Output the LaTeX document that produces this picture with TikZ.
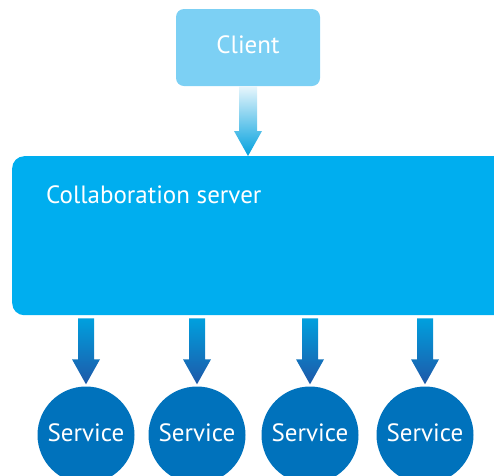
\documentclass[tikz,border=0pt]{standalone}
\usepackage{fontspec}
\setmainfont{PT Sans}
\usetikzlibrary{calc}
\definecolor{clientblue}{RGB}{124,208,244}
\definecolor{serverblue}{RGB}{0,174,239}
\definecolor{serviceblue}{RGB}{0,114,188}
\definecolor{arrowlight}{RGB}{232,246,252}
\definecolor{arrowmid}{RGB}{0,160,222}
\definecolor{arrowdark}{RGB}{30,88,168}

% fat arrow: #1 start, #2 tip, #3 shading, #4 half shaft width
\newcommand{\FlowArrow}[4]{%
\shade[#3] let \p1=(#1), \p2=(#2) in
 (\x1-#4,\y1) -- (\x1+#4,\y1) -- (\x1+#4,\y2+25pt) -- (\x1+14pt,\y2+25pt)
 -- (\x1,\y2) -- (\x1-14pt,\y2+25pt) -- (\x1-#4,\y2+25pt) -- cycle;}

\begin{document}
\begin{tikzpicture}[x=1pt,y=-1pt,
  every node/.style={inner sep=0,text=white,font=\fontsize{25}{29}\selectfont},
  clientbox/.style={fill=clientblue,rounded corners=8pt,minimum width=144pt,minimum height=77pt,text depth=6pt},
  serverbox/.style={fill=serverblue,rounded corners=12pt,minimum width=500pt,minimum height=159pt,anchor=north west},
  servicecircle/.style={circle,fill=serviceblue,minimum size=97pt,text depth=5pt},
  clientshade/.style={top color=arrowlight,bottom color=arrowmid},
  serviceshade/.style={top color=arrowmid,bottom color=arrowdark}]
\useasboundingbox (0,0) rectangle (494,475);
\clip (0,0) rectangle (494,475);

\node[clientbox] (client) at (248,47.5) {Client};
\node[serverbox] (server) at (12,156) {};
\node[anchor=base west] (servertitle) at (46,203) {Collaboration server};

\FlowArrow{client.south}{client.south |- server.north}{clientshade}{9pt}

\foreach \x [count=\i] in {86,197,310,425}{
  \node[servicecircle] (s\i) at (\x,435) {Service};
  \FlowArrow{$(server.south -| s\i.north)+(0,3)$}{$(s\i.north)+(0,-2)$}{serviceshade}{8pt}
}
\end{tikzpicture}
\end{document}
